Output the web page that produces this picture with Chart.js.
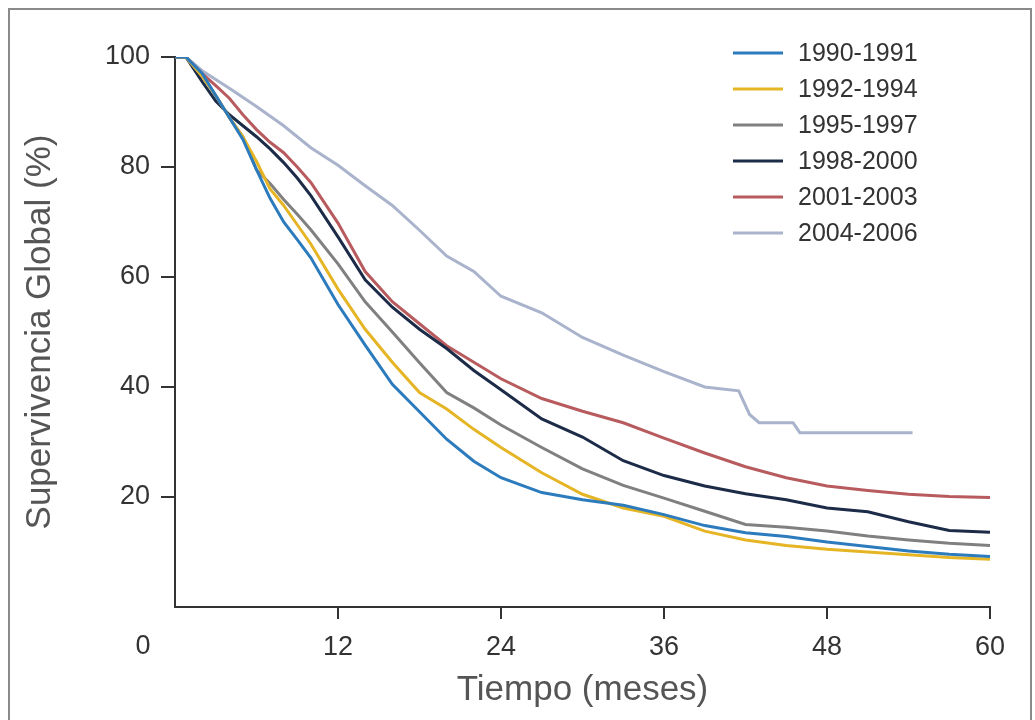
<!DOCTYPE html>
<html>
<head>
<meta charset="utf-8">
<script src="https://cdn.jsdelivr.net/npm/chart.js@4.4.1/dist/chart.umd.min.js"></script>
<style>
  body { margin: 0; background: #fff; }
  #frame { position: absolute; left: 8px; top: 8px; width: 1020px; height: 730px; border: 2px solid #8a8a8a; }
  #chartSupervivencia { position: absolute; left: 0; top: 0; }
</style>
</head>
<body>
<div id="frame"></div>
<canvas id="chartSupervivencia" width="1035" height="720"></canvas>
<script>
// meses de seguimiento (eje X)
const months = [0, 0.8, 2, 3, 4, 5, 6, 7, 8, 9, 10, 12, 14, 16, 18, 20, 22, 24, 27, 30, 33, 36, 39, 42, 45, 48, 51, 54, 57, 60];
const s1990 = [100, 100, 97, 93, 89, 85, 79.5, 74.3, 70, 66.8, 63.5, 55, 47.6, 40.5, 35.5, 30.5, 26.5, 23.5, 20.8, 19.5, 18.5, 16.8, 14.8, 13.5, 12.8, 11.8, 11, 10.2, 9.6, 9.2];
const s1992 = [100, 100, 96.5, 93, 89, 85.5, 81, 76, 73, 69.5, 66, 57.8, 50.5, 44.5, 39, 36, 32.3, 29, 24.4, 20.5, 18, 16.5, 13.8, 12.2, 11.2, 10.5, 10, 9.5, 9, 8.7];
const s1995 = [100, 100, 96.5, 93, 89, 85.5, 79.5, 77, 74.1, 71.4, 68.6, 62.4, 55.5, 50, 44.4, 39, 36.2, 33.1, 29, 25.1, 22.1, 19.8, 17.4, 15, 14.5, 13.8, 12.9, 12.2, 11.6, 11.2];
const s1998 = [100, 100, 95.5, 92, 89.5, 87.5, 85.5, 83.3, 80.8, 78, 74.8, 67.3, 59.5, 54.5, 50.5, 47, 43, 39.5, 34.2, 30.9, 26.6, 23.9, 22, 20.6, 19.5, 18, 17.3, 15.5, 13.9, 13.6];
const s2001 = [100, 100, 97, 94.8, 92.5, 89.5, 86.8, 84.5, 82.6, 80, 77.2, 69.8, 61, 55.5, 51.5, 47.5, 44.5, 41.5, 37.9, 35.6, 33.5, 30.7, 28, 25.5, 23.5, 22, 21.2, 20.5, 20.1, 19.9];
// 2004-2006 termina antes, con sus propios tiempos
const months2004 = [0, 0.8, 2, 4, 6, 8, 10, 12, 14, 16, 18, 20, 22, 24, 27, 30, 33, 36, 39, 41.5, 42.3, 43, 45.5, 46, 54.3];
const s2004 = [100, 100, 97.5, 94.3, 91, 87.5, 83.5, 80.3, 76.6, 73, 68.5, 63.8, 61, 56.5, 53.5, 49, 45.8, 42.8, 40, 39.3, 35, 33.5, 33.5, 31.7, 31.7];

const labels = ['1990-1991', '1992-1994', '1995-1997', '1998-2000', '2001-2003', '2004-2006'];
const colors = ['#2b7bbd', '#e5b525', '#808080', '#1c2b47', '#b85b5e', '#a9b3cc'];

const pts = (xs, ys) => xs.map((m, i) => ({ x: m, y: ys[i] }));
const series = [pts(months, s1990), pts(months, s1992), pts(months, s1995), pts(months, s1998), pts(months, s2001), pts(months2004, s2004)];

// leyenda dentro del área y etiqueta "0" en el origen
const extras = {
    id: 'extras',
    afterDraw(chart) {
        const c = chart.ctx;
        c.save();
        c.font = '25px "Liberation Sans", Arial, sans-serif';
        c.textBaseline = 'middle';
        chart.data.datasets.forEach((ds, i) => {
            const y = 53 + i * 36;
            c.strokeStyle = ds.borderColor;
            c.lineWidth = 3;
            c.beginPath();
            c.moveTo(733, y);
            c.lineTo(783, y);
            c.stroke();
            c.fillStyle = '#333';
            c.textAlign = 'left';
            c.fillText(ds.label, 798, y + 1);
        });
        const xs = chart.scales.x;
        c.font = '27px "Liberation Sans", Arial, sans-serif';
        c.textAlign = 'center';
        c.fillText('0', xs.left - 32, 647);
        c.restore();
    }
};

const ctx = document.getElementById('chartSupervivencia').getContext('2d');
new Chart(ctx, {
    type: 'line',
    data: {
        datasets: series.map((d, i) => ({
            label: labels[i],
            data: d,
            borderColor: colors[i],
            borderWidth: 3,
            pointRadius: 0,
            tension: 0,
            fill: false
        }))
    },
    options: {
        responsive: false,
        animation: false,
        devicePixelRatio: 1,
        layout: { padding: { left: 0, top: 57, right: 45, bottom: 0 } },
        plugins: {
            legend: { display: false },
            tooltip: { enabled: false }
        },
        scales: {
            x: {
                type: 'linear',
                min: 0,
                max: 60,
                afterFit: s => { s.height = 113; },
                ticks: {
                    stepSize: 12,
                    padding: 12,
                    color: '#333',
                    font: { size: 27, family: '"Liberation Sans", Arial, sans-serif' },
                    callback: v => (v === 0 ? '' : v)
                },
                grid: {
                    drawOnChartArea: false,
                    tickLength: 12,
                    lineWidth: 2,
                    color: c => (c.tick && c.tick.value === 0 ? 'rgba(0,0,0,0)' : '#333')
                },
                border: { color: '#333', width: 2 },
                title: {
                    display: true,
                    text: 'Tiempo (meses)',
                    color: '#555',
                    padding: { top: 0, bottom: 9 },
                    font: { size: 35, family: '"Liberation Sans", Arial, sans-serif' }
                }
            },
            y: {
                min: 0,
                max: 100,
                afterFit: s => { s.width = 175; },
                ticks: {
                    stepSize: 20,
                    padding: 11,
                    color: '#333',
                    font: { size: 27, family: '"Liberation Sans", Arial, sans-serif' },
                    callback: v => (v === 0 ? '' : v)
                },
                grid: {
                    drawOnChartArea: false,
                    tickLength: 14,
                    lineWidth: 2,
                    color: c => (c.tick && c.tick.value === 0 ? 'rgba(0,0,0,0)' : '#333')
                },
                border: { color: '#333', width: 2 },
                title: {
                    display: true,
                    text: 'Supervivencia Global (%)',
                    color: '#555',
                    padding: { top: 19, bottom: 0 },
                    font: { size: 35, family: '"Liberation Sans", Arial, sans-serif' }
                }
            }
        }
    },
    plugins: [extras]
});
</script>
</body>
</html>
